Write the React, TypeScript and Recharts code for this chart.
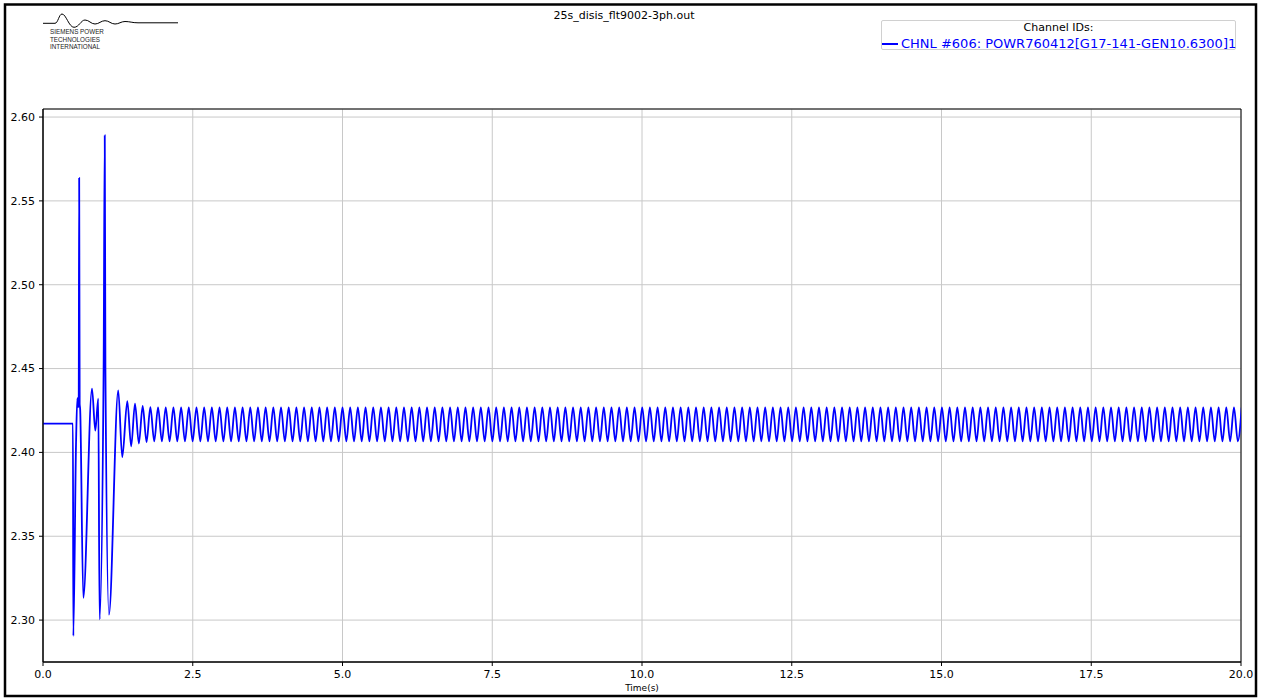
import { CartesianGrid, Line, LineChart, ReferenceArea, XAxis, YAxis } from "recharts";

// PSS/E channel plot: generator electrical power after a 3-phase fault.
const FILE_NAME = "25s_disis_flt9002-3ph.out";
const CHANNEL_NAME = "CHNL #606: POWR760412[G17-141-GEN10.6300]1";
const LOGO_LINES = ["SIEMENS POWER", "TECHNOLOGIES", "INTERNATIONAL"];

const X_TICKS = [0, 2.5, 5, 7.5, 10, 12.5, 15, 17.5, 20];
const Y_TICKS = [2.3, 2.35, 2.4, 2.45, 2.5, 2.55, 2.6];
const X_DOMAIN: [number, number] = [0, 20];
const Y_DOMAIN: [number, number] = [2.275, 2.6048];

// fault on / clearing transient, read point by point
const TRANSIENT_TIME = [
  0, 0.5, 0.506, 0.551, 0.573, 0.588, 0.596, 0.604, 0.612, 0.62, 0.673,
  0.818, 0.873, 0.923, 0.945, 1.012, 1.031, 1.042, 1.101, 1.256, 1.323,
  1.4076, 1.4717,
];
const TRANSIENT_POWER = [
  2.4172, 2.4172, 2.2905, 2.4045, 2.4324, 2.427, 2.4285, 2.5636, 2.429, 2.426,
  2.3132, 2.438, 2.413, 2.432, 2.3004, 2.45, 2.589, 2.45, 2.3032, 2.437, 2.3972,
  2.4306, 2.4036,
];

// sustained ~7.8 Hz swing: peaks and troughs, one every half cycle
const SWING_START = 1.5359;
const SWING_STEP = 0.06415;
const SWING_POWER = [
  2.4291, 2.4053, 2.4277, 2.4062, 2.427, 2.4066, 2.4268, 2.4066, 2.4268, 2.4066, 2.4268, 2.4066, 2.4268, 2.4066, 2.4268, 2.4066,
  2.4268, 2.4066, 2.4268, 2.4066, 2.4268, 2.4066, 2.4268, 2.4066, 2.4268, 2.4066, 2.4268, 2.4066, 2.4268, 2.4066, 2.4268, 2.4066,
  2.4268, 2.4066, 2.4268, 2.4066, 2.4268, 2.4066, 2.4268, 2.4066, 2.4268, 2.4066, 2.4268, 2.4066, 2.4268, 2.4066, 2.4268, 2.4066,
  2.4268, 2.4066, 2.4268, 2.4066, 2.4268, 2.4066, 2.4268, 2.4066, 2.4268, 2.4066, 2.4268, 2.4066, 2.4268, 2.4066, 2.4268, 2.4066,
  2.4268, 2.4066, 2.4268, 2.4066, 2.4268, 2.4066, 2.4268, 2.4066, 2.4268, 2.4066, 2.4268, 2.4066, 2.4268, 2.4066, 2.4268, 2.4066,
  2.4268, 2.4066, 2.4268, 2.4066, 2.4268, 2.4066, 2.4268, 2.4066, 2.4268, 2.4066, 2.4268, 2.4066, 2.4268, 2.4066, 2.4268, 2.4066,
  2.4268, 2.4066, 2.4268, 2.4066, 2.4268, 2.4066, 2.4268, 2.4066, 2.4268, 2.4066, 2.4268, 2.4066, 2.4268, 2.4066, 2.4268, 2.4066,
  2.4268, 2.4066, 2.4268, 2.4066, 2.4268, 2.4066, 2.4268, 2.4066, 2.4268, 2.4066, 2.4268, 2.4066, 2.4268, 2.4066, 2.4268, 2.4066,
  2.4268, 2.4066, 2.4268, 2.4066, 2.4268, 2.4066, 2.4268, 2.4066, 2.4268, 2.4066, 2.4268, 2.4066, 2.4268, 2.4066, 2.4268, 2.4066,
  2.4268, 2.4066, 2.4268, 2.4066, 2.4268, 2.4066, 2.4268, 2.4066, 2.4268, 2.4066, 2.4268, 2.4066, 2.4268, 2.4066, 2.4268, 2.4066,
  2.4268, 2.4066, 2.4268, 2.4066, 2.4268, 2.4066, 2.4268, 2.4066, 2.4268, 2.4066, 2.4268, 2.4066, 2.4268, 2.4066, 2.4268, 2.4066,
  2.4268, 2.4066, 2.4268, 2.4066, 2.4268, 2.4066, 2.4268, 2.4066, 2.4268, 2.4066, 2.4268, 2.4066, 2.4268, 2.4066, 2.4268, 2.4066,
  2.4268, 2.4066, 2.4268, 2.4066, 2.4268, 2.4066, 2.4268, 2.4066, 2.4268, 2.4066, 2.4268, 2.4066, 2.4268, 2.4066, 2.4268, 2.4066,
  2.4268, 2.4066, 2.4268, 2.4066, 2.4268, 2.4066, 2.4268, 2.4066, 2.4268, 2.4066, 2.4268, 2.4066, 2.4268, 2.4066, 2.4268, 2.4066,
  2.4268, 2.4066, 2.4268, 2.4066, 2.4268, 2.4066, 2.4268, 2.4066, 2.4268, 2.4066, 2.4268, 2.4066, 2.4268, 2.4066, 2.4268, 2.4066,
  2.4268, 2.4066, 2.4268, 2.4066, 2.4268, 2.4066, 2.4268, 2.4066, 2.4268, 2.4066, 2.4268, 2.4066, 2.4268, 2.4066, 2.4268, 2.4066,
  2.4268, 2.4066, 2.4268, 2.4066, 2.4268, 2.4066, 2.4268, 2.4066, 2.4268, 2.4066, 2.4268, 2.4066, 2.4268, 2.4066, 2.4268, 2.4066,
  2.4268, 2.4066, 2.4268, 2.4066, 2.4268, 2.4066, 2.4268, 2.4066, 2.4268, 2.4066, 2.4268, 2.4066, 2.4268, 2.4066, 2.4268, 2.4066,
  2.4268,
];

const LINE_COLOR = "#0000ff";
const GRID_COLOR = "#c8c8c8";
const FONT = "'DejaVu Sans', sans-serif";

const data = [
  ...TRANSIENT_TIME.map((t, i) => ({ t, p: TRANSIENT_POWER[i] })),
  ...SWING_POWER.map((p, i) => ({
    t: Number((SWING_START + i * SWING_STEP).toFixed(4)),
    p,
  })),
];

const tickStyle = { fill: "#000", fontSize: 11, fontFamily: FONT };

export default function App() {
  return (
    <div
      style={{
        position: "absolute",
        left: 0,
        top: 0,
        width: 1263,
        height: 698,
        background: "#fff",
        overflow: "hidden",
        fontFamily: FONT,
      }}
    >
      <LineChart
        width={1263}
        height={698}
        data={data}
        margin={{ top: 109, right: 22, bottom: 6, left: 0 }}
      >
        <CartesianGrid stroke={GRID_COLOR} strokeWidth={1} />
        <XAxis
          dataKey="t"
          type="number"
          domain={X_DOMAIN}
          ticks={X_TICKS}
          allowDataOverflow
          height={30}
          tickFormatter={(v: number) => v.toFixed(1)}
          tick={tickStyle}
          tickSize={4}
          tickMargin={4}
          stroke="#000"
          label={{
            value: "Time(s)",
            position: "insideBottom",
            offset: 1,
            fill: "#000",
            fontSize: 9,
            fontFamily: FONT,
          }}
        />
        <YAxis
          type="number"
          domain={Y_DOMAIN}
          ticks={Y_TICKS}
          allowDataOverflow
          width={43}
          tickFormatter={(v: number) => v.toFixed(2)}
          tick={tickStyle}
          tickSize={4}
          tickMargin={4}
          stroke="#000"
        />
        <ReferenceArea
          x1={X_DOMAIN[0]}
          x2={X_DOMAIN[1]}
          y1={Y_DOMAIN[0]}
          y2={Y_DOMAIN[1]}
          fill="none"
          stroke="#000"
          strokeWidth={1}
        />
        <Line
          type="monotone"
          dataKey="p"
          name={CHANNEL_NAME}
          stroke={LINE_COLOR}
          strokeWidth={1.8}
          dot={false}
          isAnimationActive={false}
        />
      </LineChart>

      {/* header: logo, file name, page frame */}
      <svg
        width={1263}
        height={698}
        style={{ position: "absolute", left: 0, top: 0, pointerEvents: "none" }}
      >
        <rect x={5} y={4.5} width={1251} height={691.5} fill="none" stroke="#000" strokeWidth={2.5} />
        <path
          d="M43,23.3 L55,23.3 C58,23.3 59,14 62,14 C66,14 69,27.3 74,27.3 C79,27.3 81,20 85,20 C89,20 91,24 95,24 C99,24 101,20.7 105,20.7 C109,20.7 111,24 115,24 C119,24 121,21.5 125,21.5 C130,21.5 132,22.8 138,22.8 L178,22.8"
          fill="none"
          stroke="#000"
          strokeWidth={1}
        />
        {LOGO_LINES.map((s, i) => (
          <text
            key={s}
            x={50}
            y={34 + i * 7.5}
            fontSize={6.3}
            fontFamily="'Liberation Sans', sans-serif"
            fill="#222"
          >
            {s}
          </text>
        ))}
        <text x={624} y={19} textAnchor="middle" fontSize={11} fontFamily={FONT} fill="#000">
          {FILE_NAME}
        </text>
      </svg>

      {/* legend box */}
      <div
        style={{
          position: "absolute",
          left: 881,
          top: 20,
          width: 355,
          height: 30,
          boxSizing: "border-box",
          border: "1px solid #d0d0d0",
          borderRadius: 2,
          background: "rgba(255,255,255,0.8)",
        }}
      >
        <div
          style={{
            position: "absolute",
            left: 0,
            right: 0,
            top: 0,
            textAlign: "center",
            fontSize: 11,
            lineHeight: "13px",
            color: "#000",
          }}
        >
          Channel IDs:
        </div>
        <div
          style={{
            position: "absolute",
            left: 0,
            top: 15,
            display: "flex",
            alignItems: "center",
            whiteSpace: "nowrap",
            fontSize: 13,
            lineHeight: "15px",
            color: LINE_COLOR,
          }}
        >
          <span
            style={{
              display: "inline-block",
              width: 16,
              height: 0,
              borderTop: `2px solid ${LINE_COLOR}`,
              marginRight: 3,
            }}
          />
          {CHANNEL_NAME}
        </div>
      </div>
    </div>
  );
}
